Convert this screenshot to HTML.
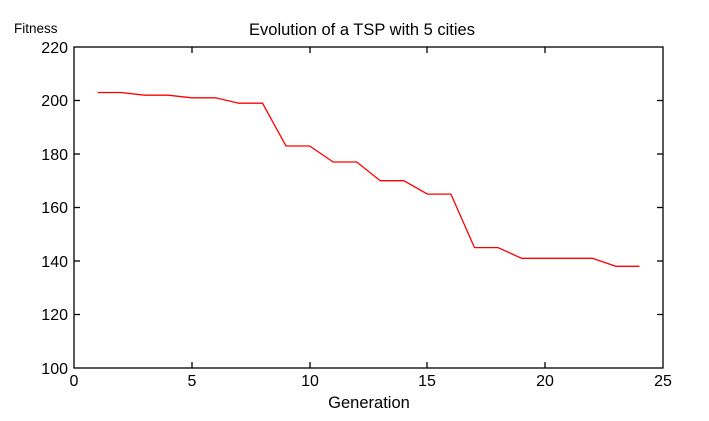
<!DOCTYPE html>
<html><head><style>body{margin:0;background:#fff}svg{display:block}text{font-family:"Liberation Sans",sans-serif;fill:#000}</style></head>
<body>
<svg width="709" height="421" viewBox="0 0 709 421" xmlns="http://www.w3.org/2000/svg">
<rect x="74" y="47" width="589" height="321" fill="none" stroke="#000" stroke-width="1.3"/>
<g stroke="#000" stroke-width="1.3">
<line x1="74" y1="100.5" x2="80" y2="100.5"/><line x1="657" y1="100.5" x2="663" y2="100.5"/>
<line x1="74" y1="154" x2="80" y2="154"/><line x1="657" y1="154" x2="663" y2="154"/>
<line x1="74" y1="207.5" x2="80" y2="207.5"/><line x1="657" y1="207.5" x2="663" y2="207.5"/>
<line x1="74" y1="261" x2="80" y2="261"/><line x1="657" y1="261" x2="663" y2="261"/>
<line x1="74" y1="314.5" x2="80" y2="314.5"/><line x1="657" y1="314.5" x2="663" y2="314.5"/>
<line x1="192" y1="368" x2="192" y2="362"/><line x1="192" y1="47" x2="192" y2="53"/>
<line x1="310" y1="368" x2="310" y2="362"/><line x1="310" y1="47" x2="310" y2="53"/>
<line x1="427" y1="368" x2="427" y2="362"/><line x1="427" y1="47" x2="427" y2="53"/>
<line x1="545" y1="368" x2="545" y2="362"/><line x1="545" y1="47" x2="545" y2="53"/>
</g>
<g font-size="16" text-anchor="end">
<text x="68" y="53">220</text><text x="68" y="106">200</text><text x="68" y="160">180</text>
<text x="68" y="213">160</text><text x="68" y="267">140</text><text x="68" y="320">120</text><text x="68" y="374">100</text>
</g>
<g font-size="16" text-anchor="middle">
<text x="74" y="386">0</text><text x="192" y="386">5</text><text x="310" y="386">10</text>
<text x="427" y="386">15</text><text x="545" y="386">20</text><text x="663" y="386">25</text>
</g>
<text x="369" y="408" font-size="16.5" text-anchor="middle">Generation</text>
<text x="362" y="35" font-size="16.5" text-anchor="middle">Evolution of a TSP with 5 cities</text>
<text x="14" y="33" font-size="13.5">Fitness</text>
<polyline fill="none" stroke="#f00" stroke-width="1.3" points="97.6,92.5 121.1,92.5 144.7,95.2 168.2,95.2 191.8,97.8 215.4,97.8 238.9,103.2 262.5,103.2 286,146 309.6,146 333.2,162 356.7,162 380.3,180.7 403.8,180.7 427.4,194.1 450.9,194.1 474.5,247.6 498.1,247.6 521.6,258.3 545.2,258.3 568.7,258.3 592.3,258.3 615.9,266.3 639.4,266.3"/>
</svg>
</body></html>
